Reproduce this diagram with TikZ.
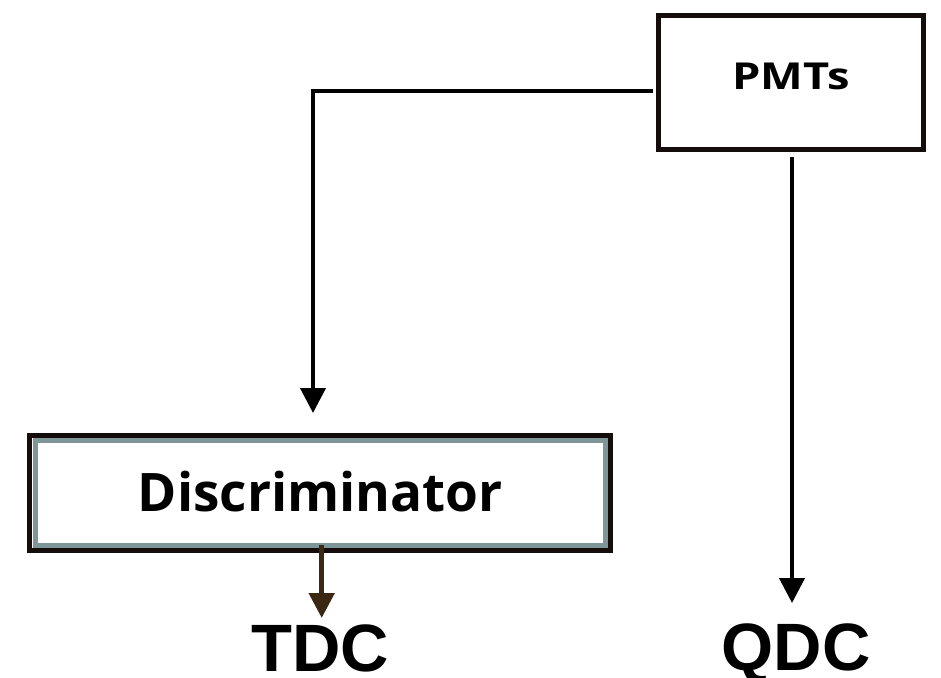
\documentclass[tikz,border=0pt]{standalone}
\usepackage{fontspec}
\usetikzlibrary{arrows.meta}
\newfontfamily\boxfont{Open Sans}
\newfontfamily\outfont{Liberation Sans}
\definecolor{boxblack}{HTML}{150D0B}
\definecolor{boxgrey}{HTML}{7F9698}
\definecolor{tdcbrown}{HTML}{3A2812}
\tikzset{
  conn/.style={line width=4pt, -{Triangle[width=25pt,length=25pt]}},
  pmtbox/.style={draw=boxblack, line width=5pt, inner sep=0pt, outer sep=0pt,
     minimum width=265pt, minimum height=134pt, font=\boxfont\bfseries\fontsize{40}{44}\selectfont,
     text height=26.5pt, text depth=13.5pt},
  discbox/.style={draw=boxblack, line width=5pt, inner sep=0pt, outer sep=0pt,
     minimum width=581pt, minimum height=115.6pt, font=\boxfont\bfseries\fontsize{57.5}{62}\selectfont,
     text height=40pt, text depth=4pt},
  outlabel/.style={inner sep=0pt, anchor=base, font=\outfont\bfseries\fontsize{67}{72}\selectfont}
}
\begin{document}
\begin{tikzpicture}[x=1pt,y=-1pt]
\useasboundingbox (0,0) rectangle (941,677);
\node[pmtbox] (pmt) at (791,82.5) {\resizebox{117pt}{26.5pt}{PMTs}};
\node[discbox] (disc) at (320.3,493) {\resizebox{365pt}{!}{Discriminator}};
\draw[boxgrey, line width=5.5pt] ([shift={(5.5,5.5)}]disc.north west) rectangle ([shift={(-5.5,-5.5)}]disc.south east);
\node[outlabel] (tdc) at (320,671) {TDC};
\node[outlabel] (qdc) at (796,670) {QDC};
\coordinate (pmtout) at (653,91);
\coordinate (dtip) at (313,413);
\coordinate (qstart) at (792,157);
\coordinate (qtip) at (792,603);
\coordinate (tstart) at (321.7,545);
\coordinate (ttip) at (321.7,618);
\draw[conn] (pmtout) -| (dtip);
\draw[conn] (qstart) -- (qtip);
\draw[conn, draw=tdcbrown, fill=tdcbrown, line width=5pt] (tstart) -- (ttip);
\end{tikzpicture}
\end{document}
